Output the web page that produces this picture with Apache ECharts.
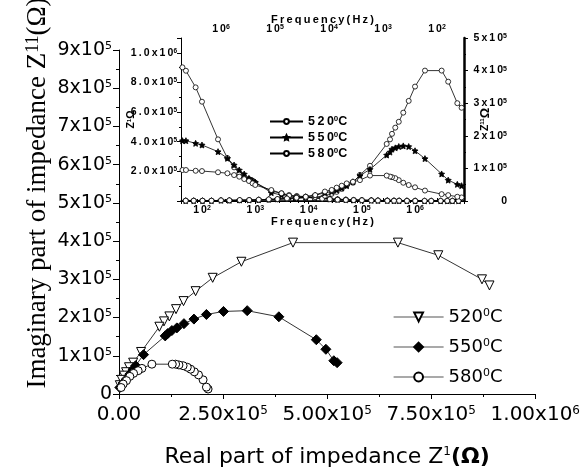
<!DOCTYPE html>
<html>
<head>
<meta charset="utf-8">
<script src="https://cdn.jsdelivr.net/npm/echarts@6/dist/echarts.min.js"></script>
<style>html,body{margin:0;padding:0;background:#fff}#chart{width:583px;height:473px}</style>
</head>
<body>
<div id="chart"></div>
<script>
// main Nyquist plot: real / imaginary part (ohm)
var zr520 = [890000, 872000, 767000, 670000, 418000, 294000, 225000, 184000, 155000, 137000, 121000, 108000, 97000, 53000, 34000, 24000, 17000, 12000, 6400, 2000];
var zi520 = [284000, 300000, 363000, 396000, 396000, 346000, 304000, 269000, 243000, 222000, 203000, 190000, 176000, 110000, 82000, 70000, 57000, 48000, 37000, 23000];
var zr550 = [524000, 516000, 497000, 474000, 384000, 308000, 251000, 210000, 180000, 156000, 139000, 127000, 117000, 111000, 59000, 40000, 34000, 26000, 18000, 10000, 2000];
var zi550 = [82000, 87000, 117000, 142000, 202000, 218000, 216000, 208000, 196000, 184000, 173000, 166000, 158000, 152000, 103000, 74000, 65000, 52000, 39000, 29000, 17000];
var zr580 = [214000, 210000, 202000, 191000, 181000, 172000, 164000, 154000, 144000, 136000, 128000, 79000, 55000, 46000, 35000, 26000, 18000, 10000, 5000];
var zi580 = [13000, 18000, 37000, 50000, 58000, 65000, 70000, 74000, 76000, 78000, 78000, 78000, 67000, 61000, 54000, 46000, 35000, 26000, 17000];

// inset: Z' against frequency (bottom axis)
var fRe = [43, 50, 76, 100, 200, 300, 400, 500, 620, 760, 890, 1000, 2000, 3100, 4300, 6000, 8800, 13000, 18000, 25000, 35000, 50000, 70000, 100000, 150000, 200000, 300000, 400000, 500000, 700000, 1000000, 1500000, 2000000, 3000000, 4000000, 5000000, 6500000];
var re520 = [902000, 879000, 767000, 670000, 416000, 290000, 227000, 187000, 164000, 148000, 137000, 124000, 67000, 52000, 40000, 34000, 29000, 24000, 19000, 15000, 12000, 10000, 8000, 6000, 5000, 4000, 3000, 3000, 2000, 2000, 2000, 1000, 1000, 1000, 1000, 1000, 1000];
var re550 = [407000, 407000, 389000, 378000, 333000, 288000, 243000, 209000, 182000, 153000, 137000, 126000, 56000, 40000, 29000, 25000, 25000, 21000, 17000, 13000, 10000, 8000, 6000, 5000, 4000, 3000, 3000, 2000, 2000, 2000, 1000, 1000, 1000, 1000, 1000, 1000, 1000];
var re580 = [209000, 209000, 204000, 202000, 194000, 187000, 175000, 164000, 148000, 135000, 119000, 108000, 74000, 52000, 36000, 29000, 25000, 20000, 16000, 12000, 9000, 7000, 6000, 5000, 4000, 3000, 2000, 2000, 2000, 1000, 1000, 1000, 1000, 1000, 1000, 1000, 1000];

// inset: Z'' against frequency (top axis, reversed)
var fIm = [35, 42, 62, 82, 167, 255, 334, 421, 510, 592, 681, 741, 854, 1740, 2670, 3600, 4700, 5800, 7200, 8900, 11900, 18000, 27000, 40000, 60000, 90000, 130000, 200000, 300000, 450000, 700000, 1000000, 1500000, 2200000, 3200000, 4500000];
var im520 = [286000, 300000, 366000, 400000, 400000, 351000, 307000, 271000, 243000, 225000, 206000, 189000, 175000, 108000, 80000, 56000, 48000, 37000, 28000, 22000, 16000, 12000, 10000, 8000, 6000, 5000, 4000, 3000, 3000, 2000, 2000, 2000, 1000, 1000, 1000, 1000];
var im550 = [47000, 51000, 64000, 83000, 130000, 154000, 167000, 169000, 167000, 163000, 159000, 150000, 141000, 97000, 78000, 59000, 47000, 40000, 34000, 29000, 25000, 18000, 13000, 10000, 8000, 6000, 5000, 4000, 3000, 3000, 2000, 2000, 1000, 1000, 1000, 1000];
var im580 = [11000, 13000, 18000, 21000, 32000, 42000, 49000, 56000, 64000, 70000, 73000, 75000, 78000, 78000, 64000, 59000, 54000, 47000, 41000, 34000, 29000, 18000, 13000, 10000, 8000, 6000, 5000, 4000, 3000, 3000, 2000, 2000, 1000, 1000, 1000, 1000];

var chart = echarts.init(document.getElementById('chart'));
var star = 'path://M0,-10L2.9,-4L9.5,-3.1L4.7,1.5L5.9,8.1L0,5L-5.9,8.1L-4.7,1.5L-9.5,-3.1L-2.9,-4Z';

function sp(s) {
    return s.split('').join('\u2009');
}
function pairs(xs, ys) {
    return xs.map(function (x, i) { return [x, ys[i]]; });
}

var mainRich = {
    a: {fontFamily: 'DejaVu Sans', fontSize: 20, color: '#000'},
    s: {fontFamily: 'DejaVu Sans', fontSize: 12, color: '#000', verticalAlign: 'top'}
};
var mainRichY = {
    a: {fontFamily: 'DejaVu Sans', fontSize: 19, color: '#000'},
    s: {fontFamily: 'DejaVu Sans', fontSize: 11, color: '#000', verticalAlign: 'top'}
};
var insetRich = {
    a: {fontFamily: 'Liberation Sans', fontWeight: 'bold', fontSize: 10.5, color: '#000'},
    s: {fontFamily: 'Liberation Sans', fontWeight: 'bold', fontSize: 7, color: '#000', verticalAlign: 'top'}
};

function mainSeries(name, xs, ys, symbol, size, fill, rotate) {
    return {
        name: name, type: 'line', xAxisIndex: 0, yAxisIndex: 0,
        data: pairs(xs, ys),
        symbol: symbol, symbolSize: size, symbolRotate: rotate || 0, showAllSymbol: true,
        lineStyle: {color: '#000', width: 0.8},
        itemStyle: {color: fill, borderColor: '#000', borderWidth: 1},
        z: 3
    };
}
function insetSeries(name, xi, yi, xs, ys, symbol, size, fill) {
    return {
        name: name, type: 'line', xAxisIndex: xi, yAxisIndex: yi,
        data: pairs(xs, ys),
        symbol: symbol, symbolSize: size, showAllSymbol: true,
        lineStyle: {color: '#000', width: 0.8},
        itemStyle: {color: fill, borderColor: '#000', borderWidth: 0.8},
        z: 5
    };
}

function expLabel(v) {
    var e = Math.log(v) / Math.LN10;
    var r = Math.round(e);
    if (Math.abs(e - r) > 1e-6) return '';
    return '{a|' + sp('10') + '}{s|' + r + '}';
}

var option = {
    animation: false,
    backgroundColor: '#fff',
    grid: [
        {left: 119, right: 41, top: 50, bottom: 78},
        {left: 181, right: 119, top: 38, bottom: 272}
    ],
    legend: [
        {
            data: ['520°C', '550°C', '580°C'],
            orient: 'vertical', left: 388, top: 303,
            itemWidth: 50, itemHeight: 11, itemGap: 12,
            lineStyle: {color: '#555', width: 1.2},
            formatter: function (name) { return '{a|' + name.slice(0, 3) + '}{s|0}{a|C}'; },
            textStyle: {
                rich: {
                    a: {fontFamily: 'DejaVu Sans', fontSize: 18, color: '#000'},
                    s: {fontFamily: 'DejaVu Sans', fontSize: 11, color: '#000', verticalAlign: 'top'}
                }
            }
        },
        {
            data: ['i520', 'i550', 'i580'],
            orient: 'vertical', left: 264, top: 110,
            itemWidth: 33, itemHeight: 6, itemGap: 3,
            formatter: function (name) { return '{a|' + sp(name.slice(1, 4)) + '}{s|0}{a|C}'; },
            textStyle: {
                rich: {
                    a: {fontFamily: 'Liberation Sans', fontWeight: 'bold', fontSize: 12.5, color: '#000'},
                    s: {fontFamily: 'Liberation Sans', fontWeight: 'bold', fontSize: 8, color: '#000', verticalAlign: 'top'}
                }
            }
        }
    ],
    xAxis: [
        {
            type: 'value', gridIndex: 0, min: 0, max: 1000000, interval: 250000,
            name: '{a|Real part of impedance Z}{s|1}{b|(Ω)}',
            nameLocation: 'middle', nameGap: 52, nameMoveOverlap: false,
            nameTextStyle: {
                rich: {
                    a: {fontFamily: 'DejaVu Sans', fontSize: 22, color: '#000'},
                    s: {fontFamily: 'DejaVu Sans', fontSize: 12, color: '#000', verticalAlign: 'top'},
                    b: {fontFamily: 'DejaVu Sans', fontSize: 22, fontWeight: 'bold', color: '#000'}
                }
            },
            axisLine: {lineStyle: {color: '#000', width: 1}},
            axisTick: {length: 5, lineStyle: {color: '#000'}},
            minorTick: {show: true, splitNumber: 2, length: 3, lineStyle: {color: '#000'}},
            splitLine: {show: false},
            axisLabel: {
                margin: 11, rich: mainRich,
                formatter: function (v) {
                    if (v === 0) return '{a|0.00}';
                    var e = Math.floor(Math.log(v) / Math.LN10 + 1e-9);
                    return '{a|' + (v / Math.pow(10, e)).toFixed(2) + 'x10}{s|' + e + '}';
                }
            }
        },
        {
            type: 'log', gridIndex: 1, position: 'bottom', min: 40.4, max: 8240000,
            name: sp('Frequency(Hz)'), nameLocation: 'middle', nameGap: 15, nameMoveOverlap: false,
            nameTextStyle: {fontFamily: 'Liberation Sans', fontWeight: 'bold', fontSize: 11, color: '#000'},
            axisLine: {lineStyle: {color: '#000', width: 1}},
            axisTick: {length: 3, lineStyle: {color: '#000'}},
            minorTick: {show: true, splitNumber: 5, length: 2, lineStyle: {color: '#000'}},
            splitLine: {show: false},
            axisLabel: {margin: 4, rich: insetRich, showMinLabel: false, showMaxLabel: false, formatter: expLabel}
        },
        {
            type: 'log', gridIndex: 1, position: 'top', inverse: true, min: 31.6, max: 5500000,
            name: sp('Frequency(Hz)'), nameLocation: 'middle', nameGap: 13, nameMoveOverlap: false,
            nameTextStyle: {fontFamily: 'Liberation Sans', fontWeight: 'bold', fontSize: 11, color: '#000'},
            axisLine: {lineStyle: {color: '#000', width: 1.5}},
            axisTick: {length: 3, lineStyle: {color: '#000'}},
            minorTick: {show: true, splitNumber: 5, length: 2, lineStyle: {color: '#000'}},
            splitLine: {show: false},
            axisLabel: {margin: 3, rich: insetRich, showMinLabel: false, showMaxLabel: false, formatter: expLabel}
        }
    ],
    yAxis: [
        {
            type: 'value', gridIndex: 0, min: 0, max: 900000, interval: 100000,
            axisLine: {show: true, lineStyle: {color: '#000', width: 1}},
            axisTick: {length: 6, lineStyle: {color: '#000'}},
            minorTick: {show: true, splitNumber: 2, length: 3, lineStyle: {color: '#000'}},
            splitLine: {show: false},
            axisLabel: {
                margin: 7, rich: mainRichY,
                formatter: function (v) {
                    if (v === 0) return '{a|0}';
                    return '{a|' + Math.round(v / 100000) + 'x10}{s|5}';
                }
            }
        },
        {
            type: 'value', gridIndex: 1, min: 0, max: 1100000, interval: 200000,
            name: '{a|Z}{s|1}{a|Ω}', nameLocation: 'middle', nameGap: 44, nameMoveOverlap: false,
            nameTextStyle: {
                rich: {
                    a: {fontFamily: 'Liberation Sans', fontWeight: 'bold', fontSize: 10.5, color: '#000'},
                    s: {fontFamily: 'Liberation Sans', fontWeight: 'bold', fontSize: 6, color: '#000', verticalAlign: 'top'}
                }
            },
            axisLine: {show: true, lineStyle: {color: '#000', width: 1}},
            axisTick: {length: 4, lineStyle: {color: '#000'}},
            minorTick: {show: true, splitNumber: 2, length: 2, lineStyle: {color: '#000'}},
            splitLine: {show: false},
            axisLabel: {
                margin: 4, showMinLabel: false, showMaxLabel: false,
                rich: {
                    a: {fontFamily: 'Liberation Sans', fontWeight: 'bold', fontSize: 10.5, color: '#000'},
                    s: {fontFamily: 'Liberation Sans', fontWeight: 'bold', fontSize: 6.5, color: '#000', verticalAlign: 'top'}
                },
                formatter: function (v) {
                    if (v === 0 || v % 200000 !== 0) return '';
                    if (v === 1000000) return '{a|' + sp('1.0x10') + '}{s|6}';
                    return '{a|' + sp((v / 100000).toFixed(1) + 'x10') + '}{s|5}';
                }
            }
        },
        {
            type: 'value', gridIndex: 1, position: 'right', min: 0, max: 500000, interval: 100000,
            name: '{a|Z}{s|11}{b|Ω}', nameLocation: 'middle', nameGap: 15, nameMoveOverlap: false,
            nameTextStyle: {
                rich: {
                    a: {fontFamily: 'Liberation Sans', fontWeight: 'bold', fontSize: 10.5, color: '#000'},
                    s: {fontFamily: 'Liberation Sans', fontWeight: 'bold', fontSize: 6, color: '#000', verticalAlign: 'top'},
                    b: {fontFamily: 'Liberation Sans', fontWeight: 'bold', fontSize: 13, color: '#000'}
                }
            },
            axisLine: {show: true, lineStyle: {color: '#000', width: 2.5}},
            axisTick: {length: 4, lineStyle: {color: '#000'}},
            minorTick: {show: true, splitNumber: 2, length: 2, lineStyle: {color: '#000'}},
            splitLine: {show: false},
            axisLabel: {
                margin: 43, align: 'right', rich: insetRich,
                formatter: function (v) {
                    if (v === 0) return '{a|0}';
                    return '{a|' + sp(Math.round(v / 100000) + 'x10') + '}{s|5}';
                }
            }
        }
    ],
    graphic: [
        {
            type: 'text', x: 38, y: 193, rotation: Math.PI / 2,
            style: {
                text: '{a|Imaginary part of impedance Z}{s|11}{a|(Ω)}',
                align: 'center', verticalAlign: 'middle',
                rich: {
                    a: {fontFamily: 'Liberation Serif', fontSize: 27, fill: '#000'},
                    s: {fontFamily: 'Liberation Serif', fontSize: 18, fill: '#000', verticalAlign: 'top'}
                }
            }
        }
    ],
    series: [
        mainSeries('520°C', zr520, zi520, 'triangle', 9, '#fff', 180),
        mainSeries('550°C', zr550, zi550, 'diamond', 10, '#000'),
        mainSeries('580°C', zr580, zi580, 'circle', 8, '#fff'),
        insetSeries('i520', 1, 1, fRe, re520, 'circle', 5, '#fff'),
        insetSeries('i550', 1, 1, fRe, re550, star, 6, '#000'),
        insetSeries('i580', 1, 1, fRe, re580, 'circle', 5, '#fff'),
        insetSeries('j520', 2, 2, fIm, im520, 'circle', 5, '#fff'),
        insetSeries('j550', 2, 2, fIm, im550, star, 6, '#000'),
        insetSeries('j580', 2, 2, fIm, im580, 'circle', 5, '#fff')
    ]
};
chart.setOption(option);
</script>
</body>
</html>
